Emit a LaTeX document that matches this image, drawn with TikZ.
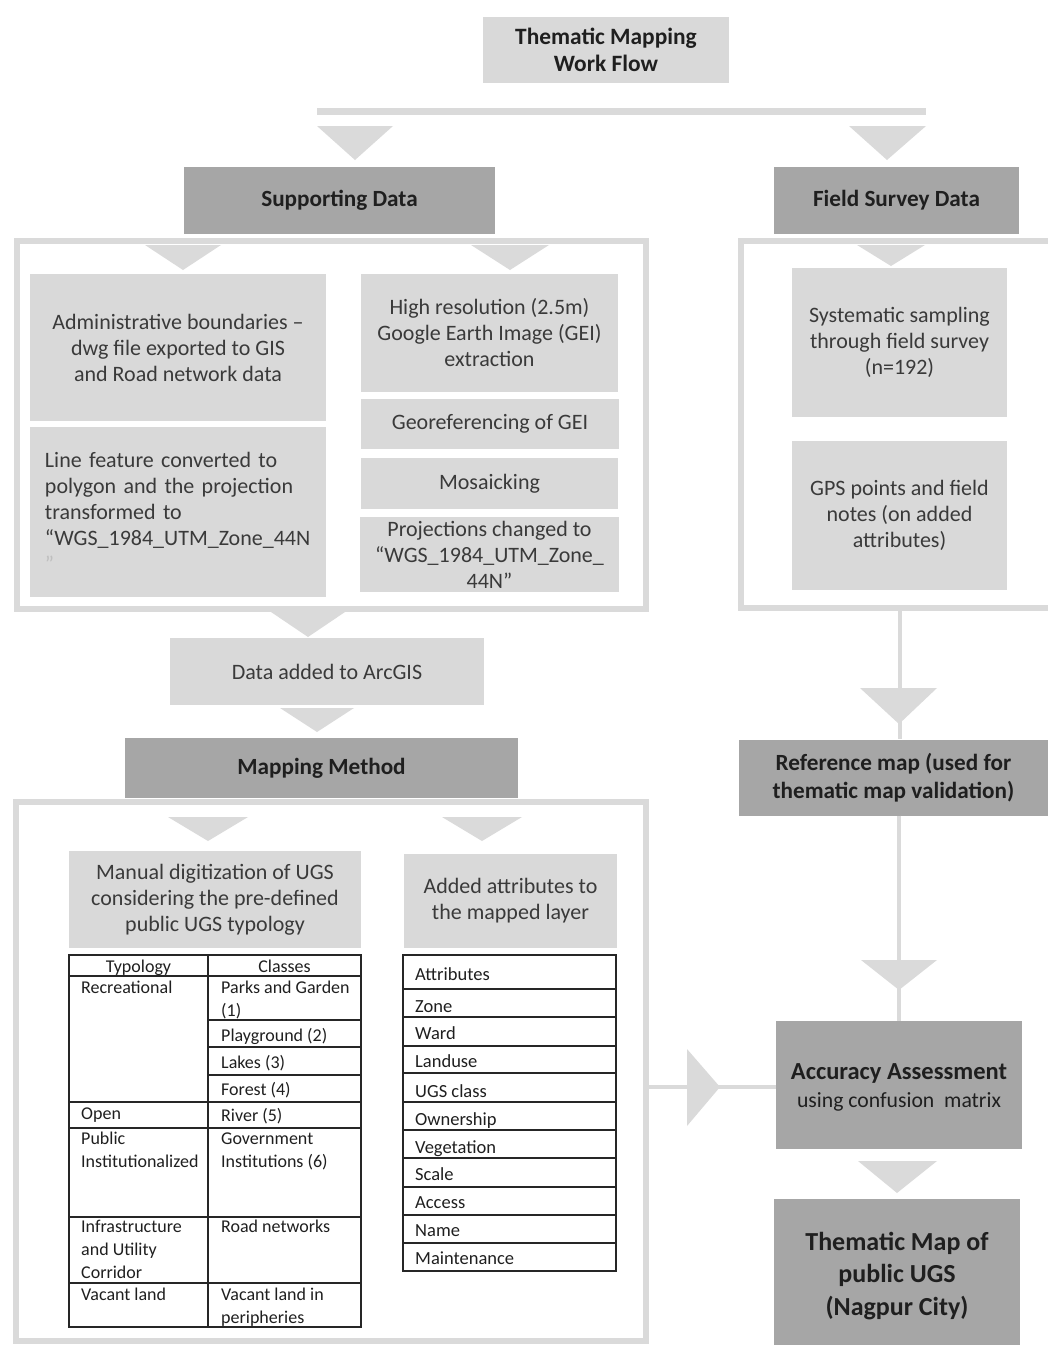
\documentclass[tikz,border=0pt]{standalone}
\usepackage{fontspec}
\setmainfont{Carlito}

\definecolor{boxlight}{RGB}{217,217,217}
\definecolor{boxdark}{RGB}{166,166,166}
\definecolor{linegray}{RGB}{218,218,218}
\definecolor{txtgray}{RGB}{58,58,58}

\tikzset{
	lbox/.style={fill=boxlight, inner sep=0pt, align=center, text=txtgray, font=\fontsize{22}{26}\selectfont},
	dbox/.style={fill=boxdark, inner sep=0pt, align=center, text=black!88, font=\bfseries\fontsize{23.2}{28}\selectfont},
	grpframe/.style={draw=linegray, line width=6pt, inner sep=0pt},
	conn/.style={draw=linegray, line width=4pt},
	tabline/.style={draw=black!85, line width=1.2pt},
	celltxt/.style={anchor=base west, inner sep=0pt, align=left, text=black!88, font=\fontsize{18}{23}\selectfont},
}

\begin{document}
\begin{tikzpicture}[x=1pt,y=1pt,yscale=-1]
			\useasboundingbox (0,0) rectangle (1048,1345);
			\clip (0,0) rectangle (1048,1345);
			
			%Shape: Rectangle (title)
			\node [lbox, minimum width=246, minimum height=66, text=black!88, font=\bfseries\fontsize{23.4}{27}\selectfont] (title) at (606,50) {Thematic Mapping\\Work Flow};
			%Shape: Bar
			\fill [linegray] (317,108) rectangle (926,115);
			%Shape: Triangle
			\fill [linegray] (317,126) -- (393,126) -- (355,160) -- cycle;
			%Shape: Triangle
			\fill [linegray] (849,126) -- (926,126) -- (887,160) -- cycle;
			
			%Shape: Rectangle (headers)
			\node [dbox, minimum width=311, minimum height=67] (supdata) at (339.5,200.5) {Supporting Data};
			\node [dbox, minimum width=245, minimum height=67] (fielddata) at (896.5,200.5) {Field Survey Data};
			
			%Shape: Frames
			\node [grpframe, minimum width=629, minimum height=368] (supframe) at (331.5,425) {};
			\node [grpframe, minimum width=319, minimum height=367] (fieldframe) at (900.5,424.5) {};
			\node [grpframe, minimum width=630, minimum height=539] (mapframe) at (331,1071.5) {};
			
			%Shape: Triangle
			\fill [linegray] (145,245) -- (221,245) -- (183,270) -- cycle;
			\fill [linegray] (471,245) -- (549,245) -- (510,270) -- cycle;
			\fill [linegray] (857,245) -- (925,245) -- (891,266) -- cycle;
			
			% Text Node
			\node [lbox, minimum width=296, minimum height=147] (admin) at (178,347.5) {Administrative boundaries --\\dwg file exported to GIS\\and Road network data};
			% Text Node
			\node [lbox, minimum width=296, minimum height=170, text width=266, align=left] (linefeat) at (178,512) {Line feature converted to\\polygon and the projection\\transformed to\\“WGS\_1984\_UTM\_Zone\_44N\\{\color{black!25}”}};
			% Text Node
			\node [lbox, minimum width=257, minimum height=118] (highres) at (489.5,333) {High resolution (2.5m)\\Google Earth Image (GEI)\\extraction};
			% Text Node
			\node [lbox, minimum width=258, minimum height=50] (georef) at (490,424) {Georeferencing of GEI};
			% Text Node
			\node [lbox, minimum width=257, minimum height=51] (mosaic) at (489.5,483.5) {Mosaicking};
			% Text Node
			\node [lbox, minimum width=259, minimum height=75] (proj) at (489.5,554.5) {Projections changed to\\“WGS\_1984\_UTM\_Zone\_\\44N”};
			
			% Text Node
			\node [lbox, minimum width=215, minimum height=149] (syst) at (899.5,342.5) {Systematic sampling\\through field survey\\(n=192)};
			% Text Node
			\node [lbox, minimum width=215, minimum height=149] (gps) at (899.5,515.5) {GPS points and field\\notes (on added\\attributes)};
			
			%Shape: Triangle
			\fill [linegray] (271,612) -- (345,612) -- (308,637) -- cycle;
			% Text Node
			\node [lbox, minimum width=314, minimum height=67] (arcgis) at (327,671.5) {Data added to ArcGIS};
			%Shape: Triangle
			\fill [linegray] (280,708) -- (354,708) -- (317,732) -- cycle;
			
			\node [dbox, minimum width=393, minimum height=60] (mapmeth) at (321.5,768) {Mapping Method};
			
			%Shape: Triangle
			\fill [linegray] (168,817) -- (248,817) -- (208,841) -- cycle;
			\fill [linegray] (442,817) -- (522,817) -- (482,841) -- cycle;
			
			% Text Node
			\node [lbox, minimum width=292, minimum height=97] (manual) at (215,899.5) {Manual digitization of UGS\\considering the pre-defined\\public UGS typology};
			% Text Node
			\node [lbox, minimum width=213, minimum height=94] (addattr) at (510.5,901) {Added attributes to\\the mapped layer};
			
			%Straight Lines (typology table)
			\draw [tabline] (69,955) rectangle (361,1327);
			\draw [tabline] (208,955) -- (208,1327);
			\draw [tabline] (69,976) -- (361,976);
			\draw [tabline] (208,1020) -- (361,1020);
			\draw [tabline] (208,1047) -- (361,1047);
			\draw [tabline] (208,1075) -- (361,1075);
			\draw [tabline] (69,1102) -- (361,1102);
			\draw [tabline] (69,1128) -- (361,1128);
			\draw [tabline] (69,1217) -- (361,1217);
			\draw [tabline] (69,1283) -- (361,1283);
			
			% Text Node (multi-line cells sit on the baseline of their last line)
			\node [celltxt, anchor=base] (ctypo) at (138.5,972.5) {Typology};
			\node [celltxt, anchor=base] (cclass) at (284.5,972.5) {Classes};
			\node [celltxt] (crec) at (81,993.5) {Recreational};
			\node [celltxt] (cparks) at (221,1016.5) {Parks and Garden\\(1)};
			\node [celltxt] (cplay) at (221,1041.5) {Playground (2)};
			\node [celltxt] (clakes) at (221,1068.5) {Lakes (3)};
			\node [celltxt] (cforest) at (221,1095.5) {Forest (4)};
			\node [celltxt] (copen) at (81,1119) {Open};
			\node [celltxt] (criver) at (221,1121) {River (5)};
			\node [celltxt] (cpub) at (81,1167.5) {Public\\Institutionalized};
			\node [celltxt] (cgov) at (221,1167.5) {Government\\Institutions (6)};
			\node [celltxt] (cinfra) at (81,1278.5) {Infrastructure\\and Utility\\Corridor};
			\node [celltxt] (croad) at (221,1232.5) {Road networks};
			\node [celltxt] (cvac) at (81,1300.5) {Vacant land};
			\node [celltxt] (cvacp) at (221,1323.5) {Vacant land in\\peripheries};
			
			%Straight Lines (attribute table)
			\draw [tabline] (403,955) rectangle (616,1271);
			\draw [tabline] (403,989) -- (616,989);
			\draw [tabline] (403,1017) -- (616,1017);
			\draw [tabline] (403,1046) -- (616,1046);
			\draw [tabline] (403,1073) -- (616,1073);
			\draw [tabline] (403,1102) -- (616,1102);
			\draw [tabline] (403,1130) -- (616,1130);
			\draw [tabline] (403,1158) -- (616,1158);
			\draw [tabline] (403,1187) -- (616,1187);
			\draw [tabline] (403,1215) -- (616,1215);
			\draw [tabline] (403,1243) -- (616,1243);
			
			% Text Node
			\node [celltxt, font=\fontsize{18.5}{23}\selectfont] (aattr) at (415,980.5) {Attributes};
			\node [celltxt, font=\fontsize{18.5}{23}\selectfont] (azone) at (415,1012.5) {Zone};
			\node [celltxt, font=\fontsize{18.5}{23}\selectfont] (award) at (415,1039.5) {Ward};
			\node [celltxt, font=\fontsize{18.5}{23}\selectfont] (aland) at (415,1067.5) {Landuse};
			\node [celltxt, font=\fontsize{18.5}{23}\selectfont] (augs) at (415,1097.5) {UGS class};
			\node [celltxt, font=\fontsize{18.5}{23}\selectfont] (aown) at (415,1125.5) {Ownership};
			\node [celltxt, font=\fontsize{18.5}{23}\selectfont] (aveg) at (415,1153.5) {Vegetation};
			\node [celltxt, font=\fontsize{18.5}{23}\selectfont] (ascale) at (415,1180.5) {Scale};
			\node [celltxt, font=\fontsize{18.5}{23}\selectfont] (aacc) at (415,1208.5) {Access};
			\node [celltxt, font=\fontsize{18.5}{23}\selectfont] (aname) at (415,1236.5) {Name};
			\node [celltxt, font=\fontsize{18.5}{23}\selectfont] (amaint) at (415,1264.5) {Maintenance};
			
			%Shape: Rectangle (right column)
			\node [dbox, minimum width=309, minimum height=76] (refmap) at (893.5,777.5) {Reference map (used for\\thematic map validation)};
			\node [dbox, minimum width=246, minimum height=128] (acc) at (899,1085) {};
			% Text Node
			\node [dbox, inner sep=0pt] (acctxt) at (899,1087) {\fontsize{24.5}{26}\selectfont Accuracy Assessment\\\mdseries\fontsize{21.7}{26}\selectfont using confusion\ \ matrix};
			\node [dbox, minimum width=246, minimum height=154, font=\bfseries\fontsize{26}{32.5}\selectfont] (thematic) at (897,1276) {Thematic Map of\\public UGS\\(Nagpur City)};
			
			%Straight Lines
			\draw [conn] (fieldframe.south -| syst.south) -- (refmap.north -| syst.south);
			\draw [conn] (refmap.south -| acc.north) -- (acc.north);
			\draw [conn] (mapframe.east |- acctxt.center) -- (acctxt.center -| acc.west);
			
			%Shape: Triangle
			\fill [linegray] (860,688) -- (937,688) -- (899,724) -- cycle;
			\fill [linegray] (861,960) -- (937,960) -- (899,990) -- cycle;
			\fill [linegray] (858,1161) -- (937,1161) -- (897,1193) -- cycle;
			\fill [linegray] (687,1049) -- (687,1126) -- (720,1087) -- cycle;
\end{tikzpicture}
\end{document}
